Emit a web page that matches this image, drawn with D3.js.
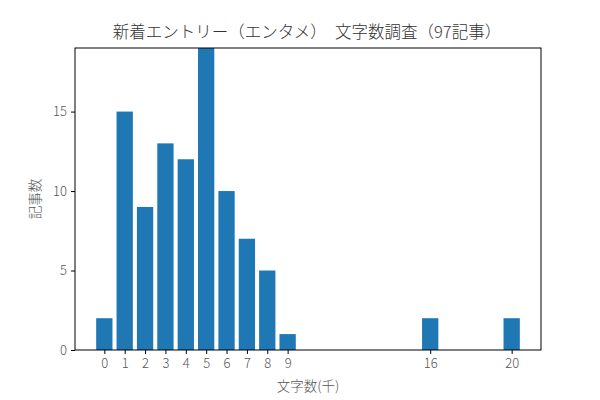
<!DOCTYPE html>
<html>
<head>
<meta charset="utf-8">
<script src="https://cdn.jsdelivr.net/npm/d3@7"></script>
<style>
  body { margin: 0; background: #fff; }
  svg { font-family: 'Noto Sans CJK JP', 'Noto Sans', sans-serif; }
</style>
</head>
<body>
<div id="chart"></div>
<script>
// 文字数 (千) ごとの記事数
var charCounts = [0, 1, 2, 3, 4, 5, 6, 7, 8, 9, 16, 20];
var articleCounts = [2, 15, 9, 13, 12, 19, 10, 7, 5, 1, 2, 2];
var yTicks = [0, 5, 10, 15];

var margin = { top: 48, right: 59, bottom: 50, left: 75 };
var width = 600, height = 400;
var graphWidth = width - margin.left - margin.right;
var graphHeight = height - margin.top - margin.bottom;
var barWidth = 0.8;

var x = d3.scaleLinear().domain([-1.44, 21.44]).range([0, graphWidth]);
var y = d3.scaleLinear().domain([0, 19]).range([graphHeight, 0]);

var svg = d3.select('#chart')
  .append('svg')
  .attr('width', width)
  .attr('height', height);

var chart = svg.append('g')
  .attr('transform', 'translate(' + margin.left + ',' + margin.top + ')');

var data = charCounts.map(function(k, i) {
  return { key: k, val: articleCounts[i] };
});

chart.append('g')
  .attr('class', 'bars')
  .selectAll('rect')
  .data(data)
  .enter()
  .append('rect')
  .attr('x', function(d) { return x(d.key - barWidth / 2); })
  .attr('width', function(d) { return x(barWidth) - x(0); })
  .attr('y', function(d) { return y(d.val); })
  .attr('height', function(d) { return y(0) - y(d.val); })
  .attr('fill', '#1f77b4');

var xAxis = d3.axisBottom(x).tickValues(charCounts).tickSize(4).tickPadding(5);
var yAxis = d3.axisLeft(y).tickValues(yTicks).tickSize(4).tickPadding(4);

var gx = chart.append('g')
  .attr('transform', 'translate(0,' + graphHeight + ')')
  .call(xAxis);
var gy = chart.append('g').call(yAxis);

[gx, gy].forEach(function(g) {
  g.select('.domain').remove();
  g.selectAll('text')
    .attr('font-size', 13)
    .attr('font-weight', 300)
    .attr('fill', '#555')
    .attr('font-family', "'Noto Sans CJK JP', sans-serif");
  g.selectAll('line').attr('stroke', '#000').attr('stroke-width', 1);
});

// frame
chart.append('rect')
  .attr('x', 0)
  .attr('y', 0)
  .attr('width', graphWidth)
  .attr('height', graphHeight)
  .attr('fill', 'none')
  .attr('stroke', '#000')
  .attr('stroke-width', 1);

svg.append('text')
  .attr('x', margin.left + graphWidth / 2 - 1)
  .attr('y', 38)
  .attr('text-anchor', 'middle')
  .attr('font-size', 16.5)
  .attr('font-weight', 300)
  .attr('fill', '#333')
  .text('新着エントリー（エンタメ）　文字数調査（97記事）');

svg.append('text')
  .attr('x', margin.left + graphWidth / 2)
  .attr('y', 391)
  .attr('text-anchor', 'middle')
  .attr('font-size', 13.5)
  .attr('font-weight', 300)
  .attr('fill', '#555')
  .text('文字数(千)');

svg.append('text')
  .attr('transform', 'translate(40,' + (margin.top + graphHeight / 2) + ') rotate(-90)')
  .attr('text-anchor', 'middle')
  .attr('font-size', 13.5)
  .attr('font-weight', 300)
  .attr('fill', '#555')
  .text('記事数');
</script>
</body>
</html>
